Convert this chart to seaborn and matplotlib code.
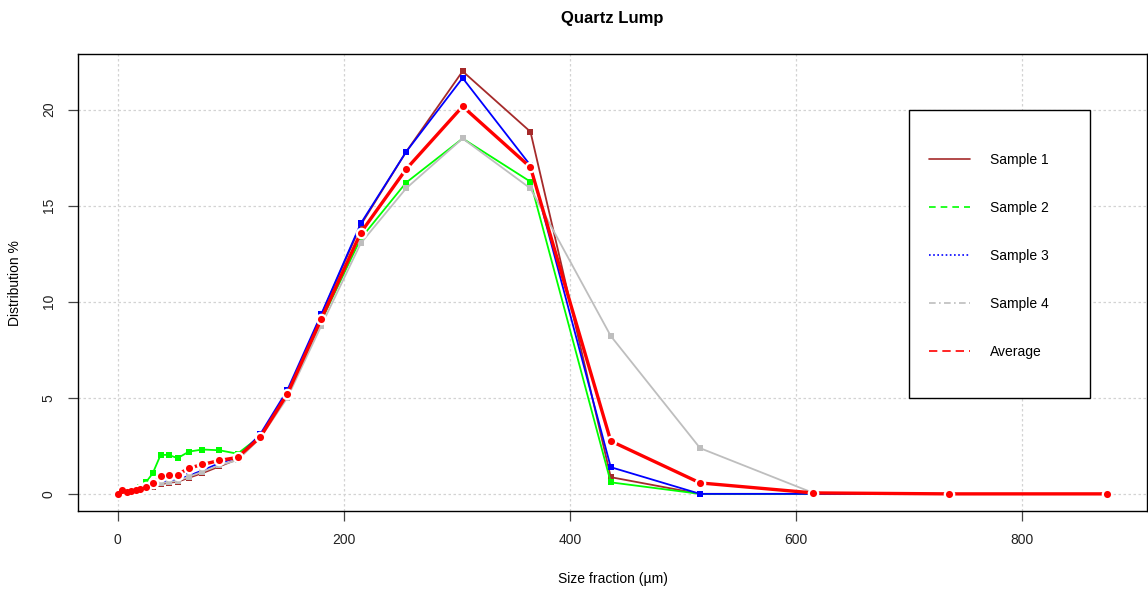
import matplotlib
matplotlib.use("Agg")
import matplotlib.pyplot as plt
import pandas as pd
import seaborn as sns
from matplotlib.lines import Line2D
from matplotlib.patches import Rectangle

# ---------------------------
# DATA
# ---------------------------
size_um = [0, 4, 8, 12, 16, 20, 25, 31, 38, 45, 53, 63, 75, 90, 106,
           126, 150, 180, 215, 255, 305, 365, 436, 515, 615, 735, 875]

sample1 = [0, 0.05, 0.1, 0.15, 0.2, 0.25, 0.3, 0.38, 0.5, 0.58, 0.63, 0.84, 1.08, 1.43, 1.8,
           3.0, 5.2, 9.3, 14.0, 17.8, 22.0, 18.85, 0.87, 0, 0, 0, 0]
sample2 = [0, 0.1, 0.15, 0.2, 0.25, 0.35, 0.6, 1.07, 2.03, 2.03, 1.86, 2.2, 2.31, 2.27, 2.09,
           3.0, 5.2, 9.0, 13.3, 16.2, 18.5, 16.25, 0.6, 0, 0, 0, 0]
sample3 = [0, 0.05, 0.1, 0.15, 0.2, 0.28, 0.33, 0.42, 0.6, 0.68, 0.73, 0.95, 1.22, 1.6, 1.9,
           3.1, 5.4, 9.35, 14.08, 17.8, 21.65, 17.1, 1.39, 0, 0, 0, 0]
sample4 = [0, 0.05, 0.1, 0.15, 0.2, 0.25, 0.3, 0.4, 0.55, 0.62, 0.68, 0.9, 1.15, 1.5, 1.75,
           2.9, 5.0, 8.75, 13.05, 15.9, 18.5, 15.9, 8.22, 2.38, 0.05, 0, 0]
average = [0, 0.2, 0.1, 0.15, 0.2, 0.25, 0.35, 0.55, 0.95, 1.0, 1.0, 1.34, 1.53, 1.74, 1.9,
           2.95, 5.2, 9.1, 13.6, 16.9, 20.17, 17.0, 2.75, 0.57, 0.05, 0, 0]

series_names = ["Sample 1", "Sample 2", "Sample 3", "Sample 4", "Average"]
series_colors = ["#A52A2A", "#00FF00", "#0000FF", "#BEBEBE", "#FF0000"]
legend_styles = ["-", (0, (4, 3)), (0, (1, 1.5)), (0, (4, 2, 1, 2)), (0, (5, 3))]

df = pd.DataFrame({"size": size_um, "Sample 1": sample1, "Sample 2": sample2,
                   "Sample 3": sample3, "Sample 4": sample4, "Average": average})

# ---------------------------
# PLOT
# ---------------------------
sns.set_theme(style="ticks")
plt.rcParams["font.family"] = ["Liberation Sans", "DejaVu Sans"]
plt.rcParams["text.color"] = "black"
plt.rcParams["axes.labelcolor"] = "black"
plt.rcParams["xtick.labelcolor"] = "#222222"
plt.rcParams["ytick.labelcolor"] = "#222222"

fig = plt.figure(figsize=(11.48, 5.93), dpi=100)
ax = fig.add_axes([0.068, 0.138, 0.931, 0.771])

for name, color in zip(series_names[:4], series_colors[:4]):
    sns.lineplot(data=df, x="size", y=name, color=color, lw=1.3, marker="s",
                 markersize=4, markeredgewidth=0, ax=ax, legend=False)

# average: thick line, white halo under each point to leave a gap, red point on top
sns.lineplot(data=df, x="size", y="Average", color=series_colors[4], lw=2.4,
             ax=ax, legend=False)
sns.scatterplot(data=df, x="size", y="Average", color="white", s=70,
                linewidth=0, ax=ax, legend=False, zorder=3)
sns.scatterplot(data=df, x="size", y="Average", color=series_colors[4], s=26,
                marker="o", linewidth=0, ax=ax, legend=False, zorder=4)

ax.set_xlim(-35, 910)
ax.set_ylim(-0.9, 22.9)
ax.set_xticks([0, 200, 400, 600, 800])
ax.set_yticks([0, 5, 10, 15, 20])
ax.grid(True, color="#D3D3D3", linestyle=(0, (2, 2)), lw=0.9)
ax.set_axisbelow(True)

for sp in ax.spines.values():
    sp.set_color("black")
    sp.set_linewidth(1.0)
ax.tick_params(axis="both", direction="out", length=7, width=0.9,
               color="#444444", labelsize=10, pad=9)
ax.tick_params(axis="y", labelrotation=90)
for lbl in ax.get_yticklabels():
    lbl.set_va("center")

ax.set_title("Quartz Lump", fontsize=12, fontweight="bold", pad=22)
ax.set_xlabel("Size fraction (µm)", fontsize=10, labelpad=18)
ax.set_ylabel("Distribution %", fontsize=10, labelpad=14)

# legend frame and entries
ax.add_patch(Rectangle((0.777, 0.247), 0.170, 0.630, transform=ax.transAxes,
                       fill=True, facecolor="white", edgecolor="black",
                       lw=1.0, zorder=5))
handles = [Line2D([0], [0], color=c, lw=1.2, linestyle=ls)
           for c, ls in zip(series_colors, legend_styles)]
leg = ax.legend(handles, series_names, frameon=False, loc="upper left",
                bbox_to_anchor=(0.796, 0.783), borderaxespad=0, borderpad=0,
                labelspacing=2.45, handlelength=3.0, handletextpad=1.4,
                fontsize=10)
leg.set_zorder(6)

fig.savefig("out.png", dpi=100)
